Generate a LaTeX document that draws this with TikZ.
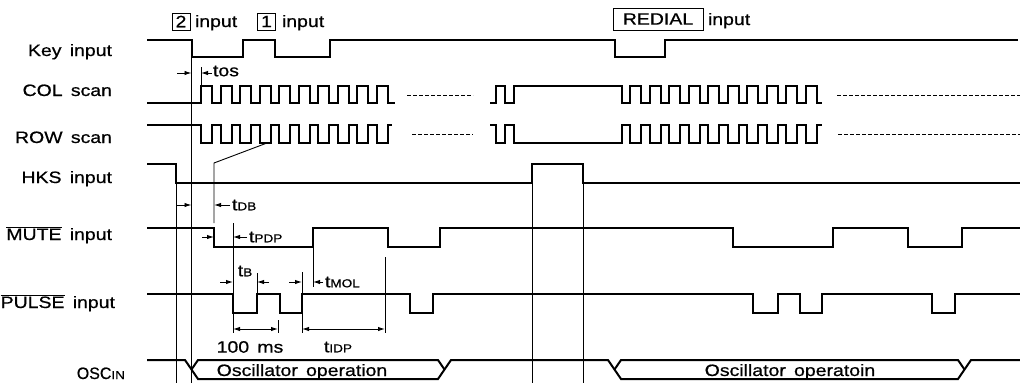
\documentclass[tikz,border=0pt]{standalone}
\usepackage{fontspec}
\setmainfont{Liberation Sans}[FakeStretch=1.18,FakeBold=0.6]
\usetikzlibrary{arrows.meta}
\newcommand{\gp}{\hspace{0.5em}}
\newcommand{\subt}[1]{{\fontsize{11.5}{11.5}\selectfont #1}}
\begin{document}
\begin{tikzpicture}[x=1pt,y=-1pt,
  every node/.style={font=\fontsize{16.5}{18}\selectfont, inner sep=0pt, outer sep=0pt},
  sig/.style={line width=2pt, line join=miter},
  guide/.style={line width=0.9pt},
  dashline/.style={line width=0.9pt, dash pattern=on 3.5pt off 2.5pt},
  arr/.style={line width=0.9pt, -{Latex[length=7pt,width=4.4pt]}},
  darr/.style={line width=0.9pt, {Latex[length=7pt,width=4.4pt]}-{Latex[length=7pt,width=4.4pt]}},
  keybox/.style={draw, line width=0.9pt, minimum width=18pt, minimum height=17pt},
  lab/.style={anchor=base east}]
\fill[white] (0,0) rectangle (1020,383);
\useasboundingbox (0,0) rectangle (1020,383);

% ---------- left labels ----------
\node[lab] (lkey) at (112,56) {Key\gp input};
\node[lab] (lcol) at (112,96) {COL\gp scan};
\node[lab] (lrow) at (112,143) {ROW\gp scan};
\node[lab] (lhks) at (112,183) {HKS\gp input};
\node[lab] (lmute) at (112,240) {$\overline{\hbox{MUTE}}$\gp input};
\node[lab] (lpulse) at (115,308) {$\overline{\hbox{PULSE}}$\gp input};
\node[lab] (losc) at (125,379) {\scalebox{0.82}[1]{OSC}\subt{IN}};

% ---------- top labels ----------
\node[keybox] (k2) at (181,21.5) {2};
\node[anchor=base west] (k2t) at (195,27) {input};
\node[keybox] (k1) at (266.5,21.5) {1};
\node[anchor=base west] (k1t) at (282,27) {input};
\node[draw, line width=0.9pt, minimum width=90pt, minimum height=22pt] (kr) at (658,19) {REDIAL};
\node[anchor=base west] (krt) at (708,25) {input};

% ---------- Key input ----------
\draw[sig] (147,40) -- (192,40) -- (192,57) -- (243,57) -- (243,40) -- (275,40) -- (275,57)
  -- (330,57) -- (330,40) -- (615,40) -- (615,57) -- (665,57) -- (665,40) -- (1018,40);

% ---------- COL scan ----------
\draw[sig] (147,103) foreach \k in {0,...,9} { -- ({201+19.5*\k},103) -- ({201+19.5*\k},86)
  -- ({212+19.5*\k},86) -- ({212+19.5*\k},103) } -- (395,103);
\draw[dashline] (407,95) -- (473,95);
\draw[sig] (490,103) -- (496,103) -- (496,86) -- (505,86) -- (505,103) -- (514,103) -- (514,86)
  -- (622,86) -- (622,103) foreach \k in {0,...,9} { -- ({630+19.5*\k},103) -- ({630+19.5*\k},86)
  -- ({641+19.5*\k},86) -- ({641+19.5*\k},103) } -- (822,103);
\draw[dashline] (837,95) -- (1020,95);

% ---------- ROW scan ----------
\draw[sig] (147,125) foreach \k in {0,...,9} { -- ({201+19.5*\k},125) -- ({201+19.5*\k},143)
  -- ({212+19.5*\k},143) -- ({212+19.5*\k},125) } -- (392,125);
\draw[dashline] (412,134) -- (473,134);
\draw[sig] (490,125) -- (496,125) -- (496,143) -- (505,143) -- (505,125) -- (514,125) -- (514,143)
  -- (622,143) -- (622,125) foreach \k in {0,...,9} { -- ({630+19.5*\k},125) -- ({630+19.5*\k},143)
  -- ({641+19.5*\k},143) -- ({641+19.5*\k},125) } -- (822,125);
\draw[dashline] (838,134) -- (1020,134);

% ---------- HKS input ----------
\draw[sig] (147,164) -- (176,164) -- (176,183) -- (532,183) -- (532,164) -- (583,164) -- (583,183) -- (1020,183);

% ---------- MUTE input ----------
\draw[sig] (147,228) -- (214,228) -- (214,247) -- (313,247) -- (313,228) -- (388,228) -- (388,247)
  -- (440,247) -- (440,228) -- (733,228) -- (733,247) -- (833,247) -- (833,228) -- (908,228)
  -- (908,247) -- (962,247) -- (962,228) -- (1020,228);

% ---------- PULSE input ----------
\draw[sig] (147,294) -- (233,294) -- (233,313) -- (257,313) -- (257,294) -- (280,294) -- (280,313)
  -- (302,313) -- (302,294) -- (410,294) -- (410,313) -- (433,313) -- (433,294) -- (753,294)
  -- (753,313) -- (778,313) -- (778,294) -- (800,294) -- (800,313) -- (822,313) -- (822,294)
  -- (932,294) -- (932,313) -- (955,313) -- (955,294) -- (1020,294);

% ---------- OSC in ----------
\draw[sig] (147,360) -- (185,360) -- (198,379) -- (438,379) -- (451,360) -- (608,360) -- (621,379)
  -- (958,379) -- (971,360) -- (1020,360);
\draw[sig] (191.5,369.5) -- (198,360) -- (438,360) -- (444.5,369.5);
\draw[sig] (614.5,369.5) -- (621,360) -- (958,360) -- (964.5,369.5);
\node[anchor=base] (osc1) at (302,376) {Oscillator\gp operation};
\node[anchor=base] (osc2) at (790,376) {Oscillator\gp operatoin};

% ---------- guide lines ----------
\draw[guide] (191.5,40) -- (191.5,383);
\draw[guide] (176,183) -- (176,383);
\draw[guide] (201,67) -- (201,86);
\draw[guide] (267,143) -- (214,163) -- (214,223);
\draw[guide] (233,223) -- (233,333);
\draw[guide] (257,273) -- (257,294);
\draw[guide] (302,272) -- (302,294);
\draw[guide] (313,247) -- (313,287);
\draw[guide] (278,320) -- (278,333);
\draw[guide] (302,313) -- (302,333);
\draw[guide] (385,257) -- (385,333);
\draw[guide] (532,183) -- (532,383);
\draw[guide] (583,183) -- (583,383);

% ---------- timing marks ----------
\draw[arr] (177,73) -- (191.5,73);
\draw[arr] (212,73) -- (201,73);
\node[anchor=west] (ltos) at (213,71) {tos};

\draw[arr] (176,205) -- (191.5,205);
\draw[arr] (230,205) -- (214,205);
\node[anchor=west] (ltdb) at (232,205) {t\subt{DB}};

\draw[arr] (202,237) -- (214,237);
\draw[arr] (247,237) -- (233,237);
\node[anchor=west] (ltpdp) at (249,237) {t\subt{PDP}};

\draw[arr] (220,282) -- (233,282);
\draw[arr] (269,282) -- (257,282);
\node (ltb) at (245,271) {t\subt{B}};

\draw[arr] (289,282) -- (302,282);
\draw[arr] (323,282) -- (313,282);
\node[anchor=west] (ltmol) at (325,282) {t\subt{MOL}};

\draw[darr] (233,329) -- (278,329);
\node (l100) at (250,347) {100\gp ms};
\draw[darr] (302,329) -- (385,329);
\node (ltidp) at (338,347) {t\subt{IDP}};
\end{tikzpicture}
\end{document}
